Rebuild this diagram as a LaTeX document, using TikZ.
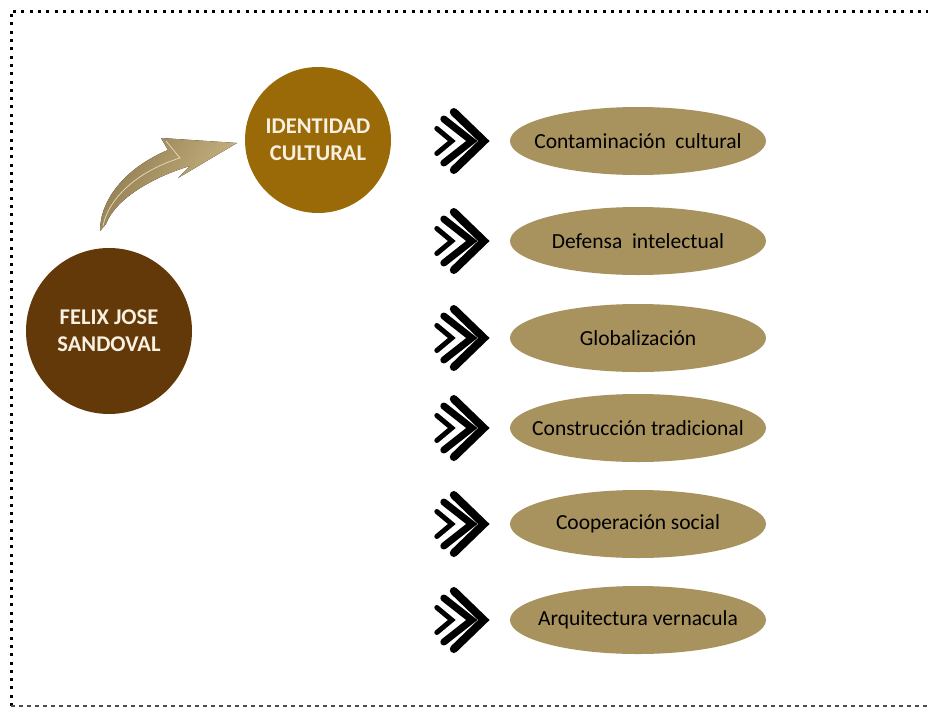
\documentclass[tikz,border=0pt]{standalone}
\usepackage{fontspec}
\setmainfont{Carlito}
\usetikzlibrary{positioning}
\usetikzlibrary{calc}
\usetikzlibrary{shapes.geometric}
\definecolor{cafeoscuro}{RGB}{99,57,10}
\definecolor{ocre}{RGB}{155,106,8}
\definecolor{arena}{RGB}{168,146,94}
\definecolor{crema}{RGB}{248,240,224}
\definecolor{oro1}{RGB}{145,125,80}
\definecolor{oro2}{RGB}{205,185,135}
\tikzset{
	autor/.style = {circle, fill=cafeoscuro, text=crema, inner sep=0pt, minimum size=166pt,
		font=\bfseries\fontsize{22.5}{27}\selectfont, align=center},
	idea/.style = {circle, fill=ocre, text=crema, inner sep=0pt, minimum size=146pt,
		font=\bfseries\fontsize{22.5}{27}\selectfont, align=center},
	tema/.style = {ellipse, fill=arena, inner ysep=0pt, inner xsep=-40pt,
		minimum width=256pt, minimum height=68pt, font=\fontsize{21.5}{24}\selectfont},
	chevron/.style = {draw=black, line cap=round, line join=miter},
	marco/.style = {draw=black, line width=3pt, dash pattern=on 3pt off 5.3pt},
	marcobajo/.style = {draw=black!70, line width=1.5pt, dash pattern=on 4pt off 4pt}
}
% tres flechas a la izquierda de cada tema
\newcommand{\flechas}[1]{
	\draw[chevron, line width=8pt] ([shift={(-56,-29)}]#1.west) -- ++(30,29) -- ++(-30,29);
	\draw[chevron, line width=7pt] ([shift={(-66,-22)}]#1.west) -- ++(28,22) -- ++(-28,22);
	\draw[chevron, line width=5pt] ([shift={(-73,-12.5)}]#1.west) -- ++(15,12.5) -- ++(-15,12.5);
}

\begin{document}
\begin{tikzpicture}[x=1pt, y=-1pt]
	\useasboundingbox (0,0) rectangle (928,707);

	\draw[marco] (11,706) -- (11,11) -- (928,11);
	\draw[marcobajo] (11,706) -- (928,706);

	\node (felix) [autor] at (109,331) {FELIX JOSE\\SANDOVAL};
	\node (identidad) [idea] at (318,140) {IDENTIDAD\\CULTURAL};

	\node (t1) [tema] at (638,141) {Contaminación\ \ cultural};
	\node (t2) [tema] at (638,241) {Defensa\ \ intelectual};
	\node (t3) [tema] at (638,338) {Globalización};
	\node (t4) [tema] at (638,428) {Construcción\ tradicional};
	\node (t5) [tema] at (638,524) {Cooperación\ social};
	\node (t6) [tema] at (638,620) {Arquitectura\ vernacula};

	\flechas{t1}
	\flechas{t2}
	\flechas{t3}
	\flechas{t4}
	\flechas{t5}
	\flechas{t6}

	% flecha curva dorada
	\fill[left color=oro1, right color=oro2, shading angle=60]
		(100,231) .. controls (100,200) and (125,168) .. (168,150) -- (161,138) -- (237,143)
		-- (178,178) -- (190,166) .. controls (150,178) and (115,200) .. (106,224) -- cycle;
	\draw[oro2!60!white, line width=0.8pt]
		(103,226) .. controls (108,200) and (135,172) .. (180,158) -- (166,141);
\end{tikzpicture}
\end{document}
